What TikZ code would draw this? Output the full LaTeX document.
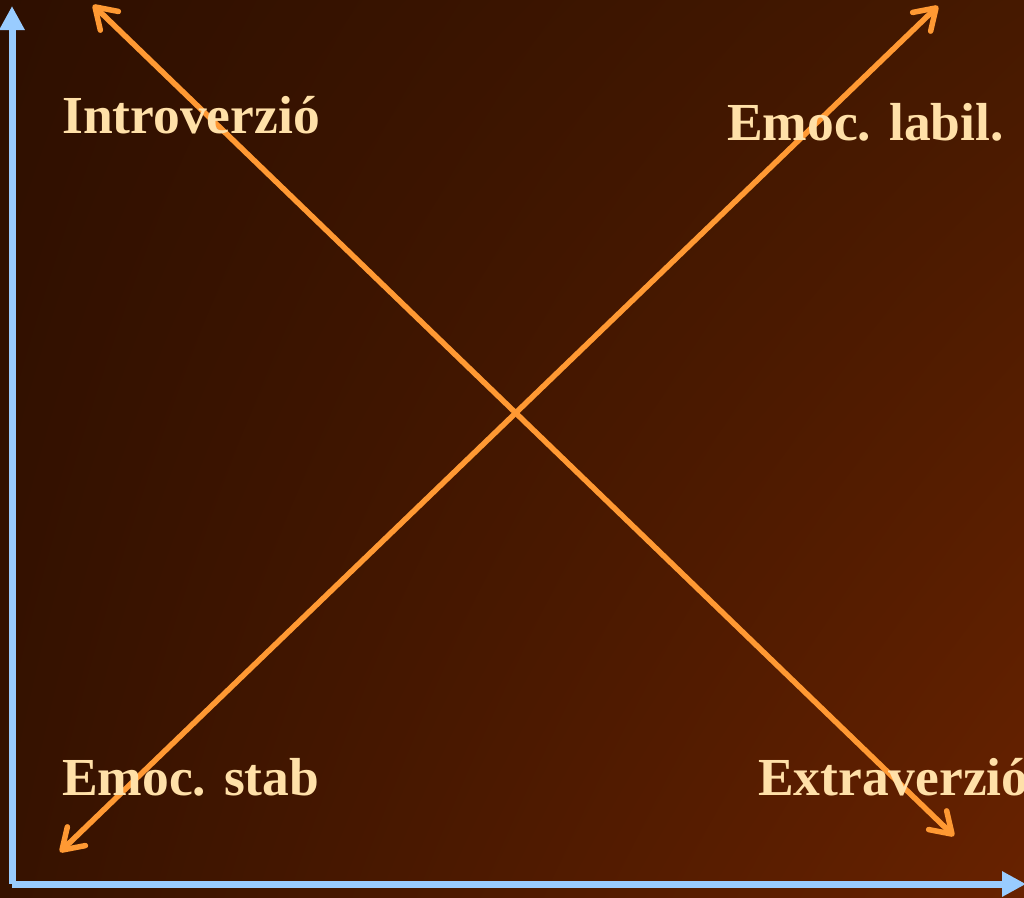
\documentclass[tikz,border=0pt]{standalone}
\usepackage{fontspec}
\setmainfont{Liberation Serif}
\usetikzlibrary{arrows.meta,shadings}

\definecolor{bgnw}{RGB}{46,15,0}
\definecolor{bgne}{RGB}{70,25,0}
\definecolor{bgsw}{RGB}{54,18,0}
\definecolor{bgse}{RGB}{104,34,0}
\definecolor{axisblue}{RGB}{153,204,255}
\definecolor{diagorange}{RGB}{255,153,51}
\definecolor{labelcream}{RGB}{255,224,168}

\tikzset{
  axis/.style={draw=axisblue,line width=7pt,-{Triangle[length=24pt,width=24pt]}},
  diag/.style={draw=diagorange,line width=5.5pt,{Straight Barb[length=20pt,width=26pt,round]}-{Straight Barb[length=20pt,width=26pt,round]}},
  corner/.style={text=labelcream,font=\fontsize{53.5}{58}\selectfont\bfseries,inner sep=0pt,anchor=base west}
}

\begin{document}
\begin{tikzpicture}[x=1pt,y=-1pt]

            \useasboundingbox (0,0) rectangle (1024,897);
            \shade[upper left=bgnw,upper right=bgne,lower left=bgsw,lower right=bgse] (0,0) rectangle (1024,897);

            \coordinate (origin) at (12,884);
            \coordinate (ytip) at (12,6);
            \coordinate (xtip) at (1026,884);
            \draw[axis] (origin) -- (ytip);
            \draw[axis] (origin) -- (xtip);

            \coordinate (sw) at (60,852);
            \coordinate (ne) at (938,6);
            \coordinate (nw) at (93,5);
            \coordinate (se) at (954,836);
            \draw[diag] (sw) -- (ne);
            \draw[diag] (nw) -- (se);

            \node[corner] (intro) at (62,133) {Introverzió};
            \node[corner] (labil) at (727,140) {Emoc. labil.};
            \node[corner] (stab) at (62,795) {Emoc. stab};
            \node[corner] (extra) at (758,795) {Extraverzió};

\end{tikzpicture}
\end{document}
